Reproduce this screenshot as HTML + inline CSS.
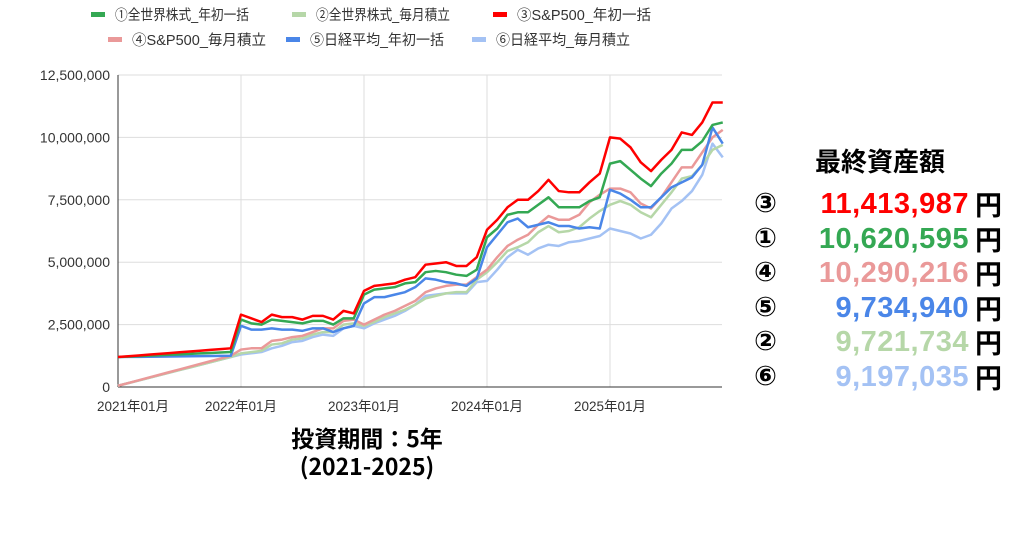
<!DOCTYPE html><html><head><meta charset="utf-8"><style>
body{margin:0;background:#fff;width:1024px;height:538px;overflow:hidden;position:relative;font-family:"Liberation Sans","Noto Sans CJK JP",sans-serif}
.r{position:absolute;font-weight:bold;font-size:29px;line-height:32px}
</style></head><body>
<svg id="s" width="1024" height="538" style="position:absolute;left:0;top:0" font-family="Liberation Sans, Noto Sans CJK JP, sans-serif"></svg>
<div style="position:absolute;left:750px;top:142px;width:260px;text-align:center;font-weight:bold;font-size:26px;font-family:'Noto Sans CJK JP',sans-serif">最終資産額</div>
<div id="rows"></div>
<div style="position:absolute;left:200px;top:423px;width:334px;text-align:center;font-weight:bold;font-size:23px;line-height:28px;font-family:'Noto Sans CJK JP',sans-serif">投資期間：5年<br>(2021-2025)</div>
<script>
const S=document.getElementById('s');let h='';
const X=m=>118+m*10.25, Y=v=>387-v*24.96;
for(let i=1;i<=5;i++){const y=Y(i*2.5);h+=`<line x1="118" x2="722" y1="${y}" y2="${y}" stroke="#ddd"/>`}
for(let i=1;i<=4;i++){const x=X(i*12);h+=`<line x1="${x}" x2="${x}" y1="75" y2="387" stroke="#ddd"/>`}
h+=`<line x1="118" x2="722" y1="387" y2="387" stroke="#333"/><line x1="118" x2="118" y1="75" y2="387" stroke="#333"/>`;
['0','2,500,000','5,000,000','7,500,000','10,000,000','12,500,000'].forEach((t,i)=>h+=`<text x="110" y="${Y(i*2.5)+5}" text-anchor="end" font-size="14" fill="#333">${t}</text>`);
['2021年01月','2022年01月','2023年01月','2024年01月','2025年01月'].forEach((t,i)=>h+=`<text x="${i?X(i*12):133}" y="411" text-anchor="middle" font-size="13.5" fill="#333">${t}</text>`);
function lin(a,b,n){return Array.from({length:n},(_,i)=>a+(b-a)*i/(n-1))}
const red=[...lin(1.2,1.55,12),2.9,2.75,2.6,2.9,2.8,2.8,2.7,2.85,2.85,2.7,3.05,2.95,3.85,4.05,4.1,4.15,4.3,4.4,4.9,4.95,5.0,4.85,4.85,5.2,6.3,6.7,7.2,7.5,7.5,7.85,8.3,7.85,7.8,7.8,8.2,8.55,10.0,9.95,9.6,9.0,8.65,9.1,9.5,10.2,10.1,10.6,11.4,11.4];
const grn=[...lin(1.2,1.4,12),2.7,2.55,2.5,2.7,2.65,2.6,2.55,2.65,2.65,2.5,2.75,2.75,3.7,3.9,3.95,4.0,4.15,4.2,4.6,4.65,4.6,4.5,4.45,4.7,6.0,6.35,6.9,7.0,7.0,7.3,7.6,7.2,7.2,7.2,7.45,7.6,8.95,9.05,8.7,8.35,8.05,8.55,8.95,9.5,9.5,9.85,10.5,10.6];
const blu=[...lin(1.2,1.25,12),2.45,2.3,2.3,2.35,2.3,2.3,2.25,2.35,2.35,2.2,2.35,2.45,3.35,3.6,3.6,3.7,3.8,4.0,4.35,4.3,4.2,4.15,4.05,4.35,5.6,6.1,6.6,6.75,6.4,6.5,6.6,6.45,6.45,6.35,6.4,6.35,7.9,7.75,7.5,7.2,7.2,7.6,8.0,8.2,8.4,8.9,10.4,9.75];
const pnk=[...lin(0.05,1.25,12),1.5,1.55,1.55,1.85,1.9,2.0,2.05,2.2,2.35,2.35,2.65,2.7,2.5,2.7,2.9,3.05,3.25,3.45,3.8,3.95,4.05,4.1,4.1,4.4,4.7,5.2,5.65,5.9,6.1,6.5,6.85,6.7,6.7,6.9,7.4,7.7,7.95,7.95,7.8,7.35,7.15,7.6,8.2,8.8,8.8,9.4,10.0,10.3];
const lg=[...lin(0.05,1.2,12),1.35,1.4,1.45,1.7,1.75,1.9,1.95,2.1,2.2,2.2,2.5,2.55,2.45,2.6,2.8,2.95,3.1,3.3,3.55,3.65,3.75,3.8,3.8,4.3,4.6,5.0,5.45,5.6,5.8,6.2,6.45,6.2,6.25,6.4,6.75,7.05,7.3,7.45,7.3,7.0,6.8,7.3,7.8,8.35,8.45,8.9,9.5,9.7];
const lb=[...lin(0.05,1.2,12),1.3,1.35,1.4,1.55,1.65,1.8,1.85,2.0,2.1,2.05,2.35,2.45,2.35,2.55,2.7,2.85,3.05,3.3,3.65,3.7,3.75,3.75,3.75,4.2,4.25,4.7,5.2,5.5,5.3,5.55,5.7,5.65,5.8,5.85,5.95,6.05,6.35,6.25,6.15,5.95,6.1,6.55,7.15,7.45,7.85,8.5,9.75,9.2];
const ser=[[lb,'#a4c2f4'],[lg,'#b6d7a8'],[pnk,'#ea9999'],[blu,'#4a86e8'],[grn,'#34a853'],[red,'#ff0000']];
ser.forEach(([d,c])=>h+=`<polyline fill="none" stroke="${c}" stroke-width="2.5" stroke-linejoin="round" points="${d.map((v,i)=>X(i)+','+Y(v)).join(' ')}"/>`);
const leg=[[91,15,'#34a853','①全世界株式_年初一括'],[292,15,'#b6d7a8','②全世界株式_毎月積立'],[493,15,'#ff0000','③S&amp;P500_年初一括'],[108,40,'#ea9999','④S&amp;P500_毎月積立'],[286,40,'#4a86e8','⑤日経平均_年初一括'],[472,40,'#a4c2f4','⑥日経平均_毎月積立']];
leg.forEach(([x,y,c,t])=>h+=`<rect x="${x}" y="${y-3}" width="14" height="5" fill="${c}"/><text x="${x+24}" y="${y+5}" font-size="14.5" fill="#333" textLength="${t.length>14?134:134}" lengthAdjust="spacingAndGlyphs">${t}</text>`);
S.innerHTML=h;
const rows=[['③','11,413,987','#ff0000'],['①','10,620,595','#34a853'],['④','10,290,216','#ea9999'],['⑤','9,734,940','#4a86e8'],['②','9,721,734','#b6d7a8'],['⑥','9,197,035','#a4c2f4']];
let r='';rows.forEach(([a,v,c],i)=>{const t=188+i*34.5;r+=`<div class="r" style="left:754px;top:${t}px;font-family:'DejaVu Sans',sans-serif;font-size:27px">${a}</div><div class="r" style="left:760px;width:209px;text-align:right;top:${t}px;color:${c};letter-spacing:0.5px">${v}</div><div class="r" style="left:975px;top:${t}px;font-family:'Noto Sans CJK JP',sans-serif;font-size:27px">円</div>`});
document.getElementById('rows').innerHTML=r;
</script></body></html>
